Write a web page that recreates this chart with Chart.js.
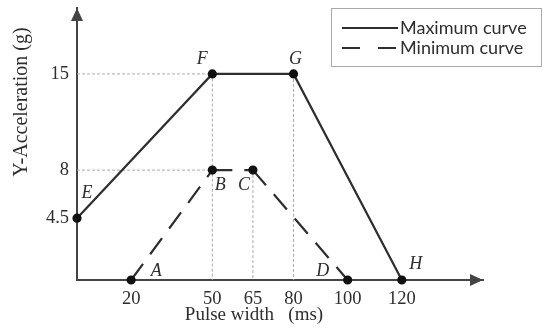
<!DOCTYPE html>
<html>
<head>
<meta charset="utf-8">
<script src="https://cdn.jsdelivr.net/npm/chart.js@4.4.1/dist/chart.umd.min.js"></script>
<style>
html,body{margin:0;padding:0;background:#fff;}
#wrap{width:553px;height:330px;}
</style>
</head>
<body>
<div id="wrap"><canvas id="c" width="553" height="330"></canvas></div>
<script>
// ---- data ----
const maxLabels = ['E', 'F', 'G', 'H'];
const maxX = [0, 50, 80, 120];
const maxY = [4.5, 15, 15, 0];
const minLabels = ['A', 'B', 'C', 'D'];
const minX = [20, 50, 65, 100];
const minY = [0, 8, 8, 0];
const xTicks = [20, 50, 65, 80, 100, 120];
const yTicks = [4.5, 8, 15];
const seriesNames = ['Maximum curve', 'Minimum curve'];
const xTitle = 'Pulse width   (ms)';
const yTitle = 'Y-Acceleration (g)';

const toPts = (xs, ys) => xs.map((x, i) => ({x: x, y: ys[i]}));
const maxPts = toPts(maxX, maxY);
const minPts = toPts(minX, minY);

// guide lines from the corner points to the axes
const F = maxPts[1], G = maxPts[2], B = minPts[1], C = minPts[2];
const guidePts = [
  {x: 0, y: F.y}, {x: F.x, y: F.y}, {x: F.x, y: 0}, {x: F.x, y: null},
  {x: G.x, y: G.y}, {x: G.x, y: 0}, {x: G.x, y: null},
  {x: 0, y: B.y}, {x: B.x, y: B.y}, {x: B.x, y: null},
  {x: C.x, y: C.y}, {x: C.x, y: 0}
];

const INK = '#2e2e2e';
const SERIF = '"Liberation Serif", "DejaVu Serif", serif';
const SANS = 'Lato, "Open Sans", sans-serif';

const labelOffsets = {
  E: [10, -25], F: [-10, -15], G: [2, -15], H: [14, -16],
  A: [25, -9], B: [8, 15], C: [-9, 15], D: [-25, -9]
};

const decor = {
  id: 'decor',
  afterDraw(chart) {
    const ctx = chart.ctx;
    const xs = chart.scales.x, ys = chart.scales.y;
    const ca = chart.chartArea;
    ctx.save();
    // arrowheads
    ctx.fillStyle = '#444';
    ctx.beginPath();
    ctx.moveTo(ca.left, ca.top);
    ctx.lineTo(ca.left - 6, ca.top + 13);
    ctx.lineTo(ca.left + 6, ca.top + 13);
    ctx.closePath();
    ctx.fill();
    ctx.beginPath();
    ctx.moveTo(ca.right, ca.bottom);
    ctx.lineTo(ca.right - 13, ca.bottom - 6);
    ctx.lineTo(ca.right - 13, ca.bottom + 6);
    ctx.closePath();
    ctx.fill();

    // point letters
    ctx.font = 'italic 18px ' + SERIF;
    ctx.fillStyle = INK;
    ctx.textAlign = 'center';
    ctx.textBaseline = 'middle';
    const putLabels = (labels, pts) => labels.forEach((l, i) => {
      const o = labelOffsets[l];
      ctx.fillText(l, xs.getPixelForValue(pts[i].x) + o[0], ys.getPixelForValue(pts[i].y) + o[1]);
    });
    putLabels(maxLabels, maxPts);
    putLabels(minLabels, minPts);

    // axis titles
    ctx.font = '19px ' + SERIF;
    ctx.fillText(xTitle, 254, 315);
    ctx.save();
    ctx.translate(22, 102);
    ctx.rotate(-Math.PI / 2);
    ctx.font = '20px ' + SERIF;
    ctx.fillText(yTitle, 0, 0);
    ctx.restore();

    // legend
    ctx.strokeStyle = '#aaa';
    ctx.lineWidth = 1;
    ctx.strokeRect(331.5, 8.5, 210, 58);
    const lx0 = 342, lx1 = 398;
    [[28, []], [48, [18, 18]]].forEach((row, i) => {
      ctx.strokeStyle = INK;
      ctx.lineWidth = 2;
      ctx.setLineDash(row[1]);
      ctx.beginPath();
      ctx.moveTo(lx0, row[0]);
      ctx.lineTo(lx1, row[0]);
      ctx.stroke();
      ctx.setLineDash([]);
      ctx.font = '18px ' + SANS;
      ctx.textAlign = 'left';
      ctx.fillStyle = INK;
      ctx.fillText(seriesNames[i], 400, row[0]);
    });
    ctx.restore();
  }
};

new Chart(document.getElementById('c'), {
  type: 'scatter',
  data: {
    datasets: [
      {
        label: 'guides', data: guidePts, showLine: true, spanGaps: false,
        borderColor: '#aaa', borderWidth: 1, borderDash: [3, 2],
        pointRadius: 0, order: 10, clip: false
      },
      {
        label: seriesNames[0], data: maxPts, showLine: true,
        borderColor: INK, borderWidth: 2.2, pointRadius: 3.5,
        pointBackgroundColor: '#111', pointBorderColor: '#111',
        order: 1, clip: false
      },
      {
        label: seriesNames[1], data: minPts, showLine: true,
        borderColor: INK, borderWidth: 2.2, borderDash: [20, 12],
        segment: {borderDashOffset: c => c.p0DataIndex * 0.01},
        pointRadius: 3.5, pointBackgroundColor: '#111', pointBorderColor: '#111',
        order: 2, clip: false
      }
    ]
  },
  options: {
    responsive: false,
    animation: false,
    layout: {padding: {left: 0, right: 70, top: 8, bottom: 0}},
    plugins: {legend: {display: false}, tooltip: {enabled: false}},
    scales: {
      x: {
        type: 'linear', min: 0, max: 150,
        afterBuildTicks: s => { s.ticks = xTicks.map(v => ({value: v})); },
        afterFit: s => { s.height = 50; s.paddingLeft = 0; s.paddingRight = 0; },
        grid: {display: false, drawTicks: false},
        border: {display: true, color: '#444', width: 2},
        ticks: {padding: 8, color: INK, font: {family: SERIF, size: 18.5}, autoSkip: false, maxRotation: 0}
      },
      y: {
        type: 'linear', min: 0, max: 19.8,
        afterBuildTicks: s => { s.ticks = yTicks.map(v => ({value: v})); },
        afterFit: s => { s.width = 77; s.paddingTop = 0; s.paddingBottom = 0; },
        grid: {display: false, drawTicks: false},
        border: {display: true, color: '#444', width: 2},
        ticks: {padding: 8, color: INK, font: {family: SERIF, size: 18.5}, autoSkip: false}
      }
    }
  },
  plugins: [decor]
});
</script>
</body>
</html>
